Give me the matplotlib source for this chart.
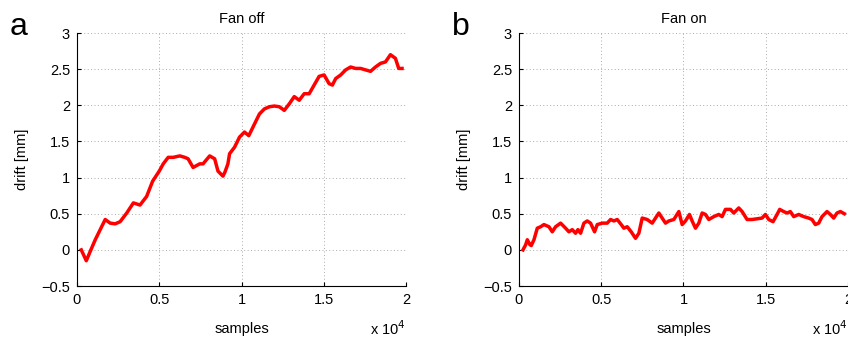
import matplotlib
matplotlib.use("Agg")
import matplotlib.pyplot as plt

plt.rcParams["font.family"] = ["Liberation Sans", "DejaVu Sans"]
plt.rcParams["font.size"] = 10.5

# drift readings (samples, mm)
fan_off_x = [260, 565, 806, 1109, 1411, 1714, 2016, 2318, 2621, 3024, 3427, 3831,
             4234, 4597, 5000, 5242, 5544, 5847, 6250, 6552, 6754, 7056, 7460, 7661,
             8065, 8367, 8569, 8871, 9000, 9173, 9274, 9577, 9879, 10181, 10443, 10786,
             11089, 11391, 11694, 11996, 12298, 12601, 12903, 13206, 13508, 13810,
             14113, 14415, 14718, 15020, 15323, 15524, 15726, 16028, 16331, 16633,
             16935, 17238, 17540, 17843, 18145, 18448, 18750, 19052, 19355, 19556, 19758]
fan_off_y = [0.00, -0.15, -0.02, 0.14, 0.28, 0.42, 0.37, 0.36, 0.39, 0.51, 0.65, 0.62,
             0.74, 0.95, 1.09, 1.19, 1.28, 1.28, 1.30, 1.28, 1.26, 1.14, 1.19, 1.19,
             1.30, 1.26, 1.09, 1.02, 1.08, 1.19, 1.33, 1.42, 1.56, 1.63, 1.58, 1.74,
             1.88, 1.95, 1.98, 1.99, 1.98, 1.93, 2.02, 2.12, 2.07, 2.16,
             2.16, 2.28, 2.40, 2.42, 2.30, 2.28, 2.37, 2.42, 2.49, 2.53,
             2.51, 2.51, 2.49, 2.47, 2.53, 2.58, 2.60, 2.70, 2.65, 2.51, 2.51]

fan_on_x = [243, 405, 506, 668, 749, 911, 1113, 1316, 1518, 1822, 2024, 2227, 2530,
            2834, 3036, 3239, 3441, 3583, 3745, 3947, 4150, 4352, 4595, 4757, 5061,
            5364, 5567, 5769, 5972, 6215, 6377, 6579, 6822, 7085, 7287, 7490, 7794,
            8097, 8300, 8502, 8704, 8907, 9109, 9413, 9717, 9919, 10121, 10364, 10526,
            10729, 10931, 11134, 11336, 11538, 11842, 12146, 12348, 12551, 12854,
            13057, 13360, 13563, 13866, 14170, 14474, 14777, 14980, 15182, 15445,
            15688, 15850, 16093, 16296, 16498, 16700, 17004, 17308, 17611, 17814,
            18016, 18219, 18421, 18725, 18927, 19130, 19332, 19534, 19777]
fan_on_y = [0.00, 0.07, 0.14, 0.07, 0.06, 0.14, 0.30, 0.32, 0.35, 0.32, 0.25, 0.32, 0.37,
            0.30, 0.25, 0.28, 0.23, 0.28, 0.23, 0.37, 0.40, 0.37, 0.25, 0.35, 0.37,
            0.37, 0.42, 0.40, 0.42, 0.35, 0.30, 0.32, 0.25, 0.16, 0.23, 0.44, 0.42,
            0.37, 0.44, 0.51, 0.44, 0.37, 0.40, 0.42, 0.53, 0.35, 0.40, 0.49, 0.40,
            0.30, 0.37, 0.51, 0.49, 0.42, 0.46, 0.49, 0.46, 0.56, 0.56,
            0.51, 0.58, 0.53, 0.42, 0.42, 0.43, 0.44, 0.49, 0.42, 0.39,
            0.49, 0.56, 0.53, 0.51, 0.53, 0.46, 0.49, 0.46, 0.44, 0.42,
            0.35, 0.37, 0.46, 0.53, 0.49, 0.44, 0.51, 0.53, 0.50]

x_ticks = [0, 5000, 10000, 15000, 20000]
x_tick_labels = ["0", "0.5", "1", "1.5", "2"]
y_ticks = [-0.5, 0, 0.5, 1, 1.5, 2, 2.5, 3]
y_tick_labels = ["\u22120.5", "0", "0.5", "1", "1.5", "2", "2.5", "3"]

fig = plt.figure(figsize=(8.48, 3.39), dpi=100)
ax1 = fig.add_axes([0.0908, 0.1563, 0.388, 0.7463])
ax2 = fig.add_axes([0.612, 0.1563, 0.388, 0.7463])

panels = [(ax1, fan_off_x, fan_off_y, "Fan off", "a"),
          (ax2, fan_on_x, fan_on_y, "Fan on", "b")]

for ax, xs, ys, title, letter in panels:
    ax.plot(xs, ys, color="#ff0000", linewidth=2.5, solid_joinstyle="round")
    ax.set_xlim(0, 20000)
    ax.set_ylim(-0.5, 3)
    ax.set_xticks(x_ticks)
    ax.set_xticklabels(x_tick_labels)
    ax.set_yticks(y_ticks)
    ax.set_yticklabels(y_tick_labels)
    ax.grid(True, linestyle=(0, (1, 2.5)), color="#aaaaaa", linewidth=0.7)
    ax.set_axisbelow(True)
    for side in ["top", "right"]:
        ax.spines[side].set_visible(False)
    for side in ["left", "bottom"]:
        ax.spines[side].set_linewidth(0.8)
    ax.tick_params(direction="in", length=3, width=0.8, labelsize=10.5, pad=5)
    ax.set_title(title, fontsize=10.5, pad=7)
    ax.set_xlabel("samples", fontsize=10.5, labelpad=11)
    ax.set_ylabel("drift [mm]", fontsize=10.5, labelpad=9)
    ax.text(1.0, -0.13, "x 10$^{4}$", transform=ax.transAxes, ha="right", va="top",
            fontsize=10.5)
    ax.text(-0.204, 0.992, letter, transform=ax.transAxes, ha="left",
            va="baseline", fontsize=23)

fig.savefig("out.png", dpi=100)
